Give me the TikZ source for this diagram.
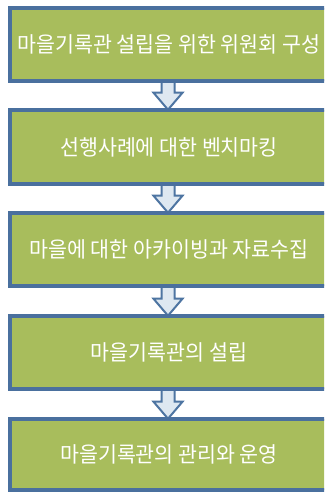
\documentclass[tikz,border=0pt]{standalone}
\usepackage{fontspec}
\newfontfamily\krfont{Noto Sans CJK KR}
\usetikzlibrary{calc}
\definecolor{boxgreen}{RGB}{168,189,92}
\definecolor{boxblue}{RGB}{74,112,158}
\definecolor{arrfill}{RGB}{222,232,241}
\definecolor{arrblue}{RGB}{78,117,162}
\tikzset{
  stepbox/.style={draw=boxblue, line width=2.6pt, fill=boxgreen,
    minimum width=324pt, minimum height=71pt, inner sep=0pt,
    text=white, font=\krfont\fontsize{20.6pt}{22pt}\selectfont},
  flowarr/.style={draw=arrblue, line width=2pt, fill=arrfill, line join=miter}
}
\newcommand{\boxtext}[1]{\scalebox{1}[1.05]{\hspace*{-8pt}#1}}
\newcommand{\flowarrow}[2]{%
  \draw[flowarr] let \p1=(#1.south), \p2=(#2.north) in
    (\x1-11.5pt,\y1) -- (\x1-11.5pt,\y2+17pt) -- (\x1-19.5pt,\y2+17pt) --
    (\x1-5pt,\y2) -- (\x1+9.5pt,\y2+17pt) -- (\x1+1.5pt,\y2+17pt) --
    (\x1+1.5pt,\y1) -- cycle;}
\begin{document}
\begin{tikzpicture}[x=1pt,y=1pt]
\clip (0,0) rectangle (324,-495);
\fill[white] (0,0) rectangle (324,-495);
\path (173,-44.5) coordinate (c1) (173,-147) coordinate (c2) (173,-249.5) coordinate (c3)
      (173,-352.5) coordinate (c4) (173,-454.5) coordinate (c5);
\node[stepbox, minimum height=71pt] (b1) at (c1) {\boxtext{마을기록관 설립을 위한 위원회 구성}};
\node[stepbox, minimum height=72pt] (b2) at (c2) {\boxtext{선행사례에 대한 벤치마킹}};
\node[stepbox, minimum height=71pt] (b3) at (c3) {\boxtext{마을에 대한 아카이빙과 자료수집}};
\node[stepbox, minimum height=71pt] (b4) at (c4) {\boxtext{마을기록관의 설립}};
\node[stepbox, minimum height=69pt] (b5) at (c5) {\boxtext{마을기록관의 관리와 운영}};
\flowarrow{b1}{b2}
\flowarrow{b2}{b3}
\flowarrow{b3}{b4}
\flowarrow{b4}{b5}
\foreach \b in {b1,b2,b3,b4,b5} {\draw[boxblue, line width=2.6pt] (\b.south west) rectangle (\b.north east);}
\end{tikzpicture}
\end{document}
